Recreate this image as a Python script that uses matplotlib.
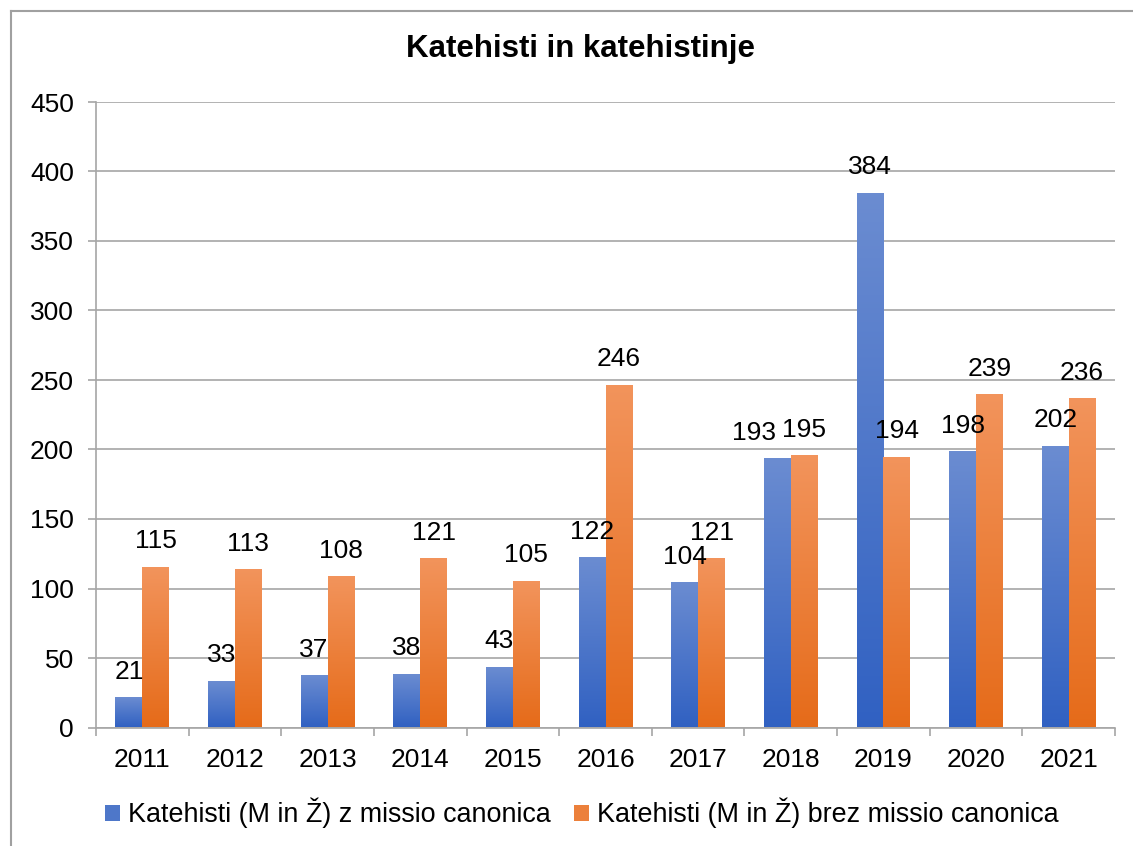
import numpy as np
import matplotlib
matplotlib.use("Agg")
import matplotlib.pyplot as plt
from matplotlib.patches import Patch
from matplotlib.lines import Line2D
from matplotlib.colors import LinearSegmentedColormap

plt.rcParams['font.family'] = ['Liberation Sans', 'DejaVu Sans']

years = ['2011', '2012', '2013', '2014', '2015', '2016', '2017', '2018', '2019', '2020', '2021']
with_missio = [21, 33, 37, 38, 43, 122, 104, 193, 384, 198, 202]
without_missio = [115, 113, 108, 121, 105, 246, 121, 195, 194, 239, 236]
series_names = ['Katehisti (M in Ž) z missio canonica', 'Katehisti (M in Ž) brez missio canonica']
title = 'Katehisti in katehistinje'
yticks = [0, 50, 100, 150, 200, 250, 300, 350, 400, 450]

# label nudges (points) to avoid overlapping labels, as in the reference
label_nudge = {(0, 7): -16.5}

W, H = 1133, 846
fig = plt.figure(figsize=(W / 100, H / 100), dpi=100)
ax = fig.add_axes([96 / W, (H - 727.5) / H, (1115 - 96) / W, (727.5 - 102) / H])

blue_top, blue_bot = (0.42, 0.55, 0.82), (0.19, 0.38, 0.76)
orange_top, orange_bot = (0.95, 0.58, 0.36), (0.90, 0.42, 0.10)
cmap_b = LinearSegmentedColormap.from_list('b', [blue_bot, blue_top])
cmap_o = LinearSegmentedColormap.from_list('o', [orange_bot, orange_top])
grad = np.linspace(0, 1, 256).reshape(-1, 1)

FS = 19
bw = 0.29
x = np.arange(len(years))
for i in range(len(years)):
    for s, (val, off, cmap) in enumerate(((with_missio[i], -bw / 2, cmap_b),
                                          (without_missio[i], bw / 2, cmap_o))):
        x0 = x[i] + off - bw / 2
        ax.imshow(grad, extent=[x0, x0 + bw, 0, val], origin='lower', aspect='auto',
                  cmap=cmap, zorder=3, interpolation='bilinear')
        ax.annotate(str(val), (x[i] + off, val), xytext=(label_nudge.get((s, i), 0), 19),
                    textcoords='offset points', ha='center', va='center', fontsize=FS, zorder=4)

ax.set_xlim(-0.5, len(years) - 0.5)
ax.set_ylim(0, 450)
ax.set_yticks(yticks)
ax.set_yticklabels([str(t) for t in yticks], fontsize=FS)
ax.set_xticks(x)
ax.set_xticklabels(years, fontsize=FS)
ax.set_xticks(np.arange(-0.5, len(years), 1.0), minor=True)
ax.tick_params(axis='x', which='major', length=0, pad=15)
ax.tick_params(axis='x', which='minor', length=6, color='#a6a6a6', width=1.2)
ax.tick_params(axis='y', length=6, color='#a6a6a6', width=1.2, pad=10)
ax.grid(axis='y', color='#a6a6a6', linewidth=1.2, zorder=0)
ax.set_axisbelow(True)
for s in ('top', 'right'):
    ax.spines[s].set_visible(False)
for s in ('left', 'bottom'):
    ax.spines[s].set_color('#a6a6a6')
    ax.spines[s].set_linewidth(1.2)

fig.text(581 / W, 1 - 57 / H, title, ha='center', va='baseline', fontsize=22.5, fontweight='bold')

handles = [Patch(facecolor=cmap_b(0.5), edgecolor='none'), Patch(facecolor=cmap_o(0.5), edgecolor='none')]
fig.legend(handles, series_names, loc='center', bbox_to_anchor=(582 / W, 1 - 813 / H), ncol=2,
           frameon=False, fontsize=19.4, handlelength=0.55, handleheight=0.55, handletextpad=0.3,
           columnspacing=0.85, borderpad=0)

# outer border (top and left visible)
fig.add_artist(Line2D([11 / W, 1], [1 - 11 / H, 1 - 11 / H], color='#a0a0a0', linewidth=1.5,
                      transform=fig.transFigure))
fig.add_artist(Line2D([11 / W, 11 / W], [0, 1 - 11 / H], color='#a0a0a0', linewidth=1.5,
                      transform=fig.transFigure))

fig.savefig('out.png', dpi=100)
